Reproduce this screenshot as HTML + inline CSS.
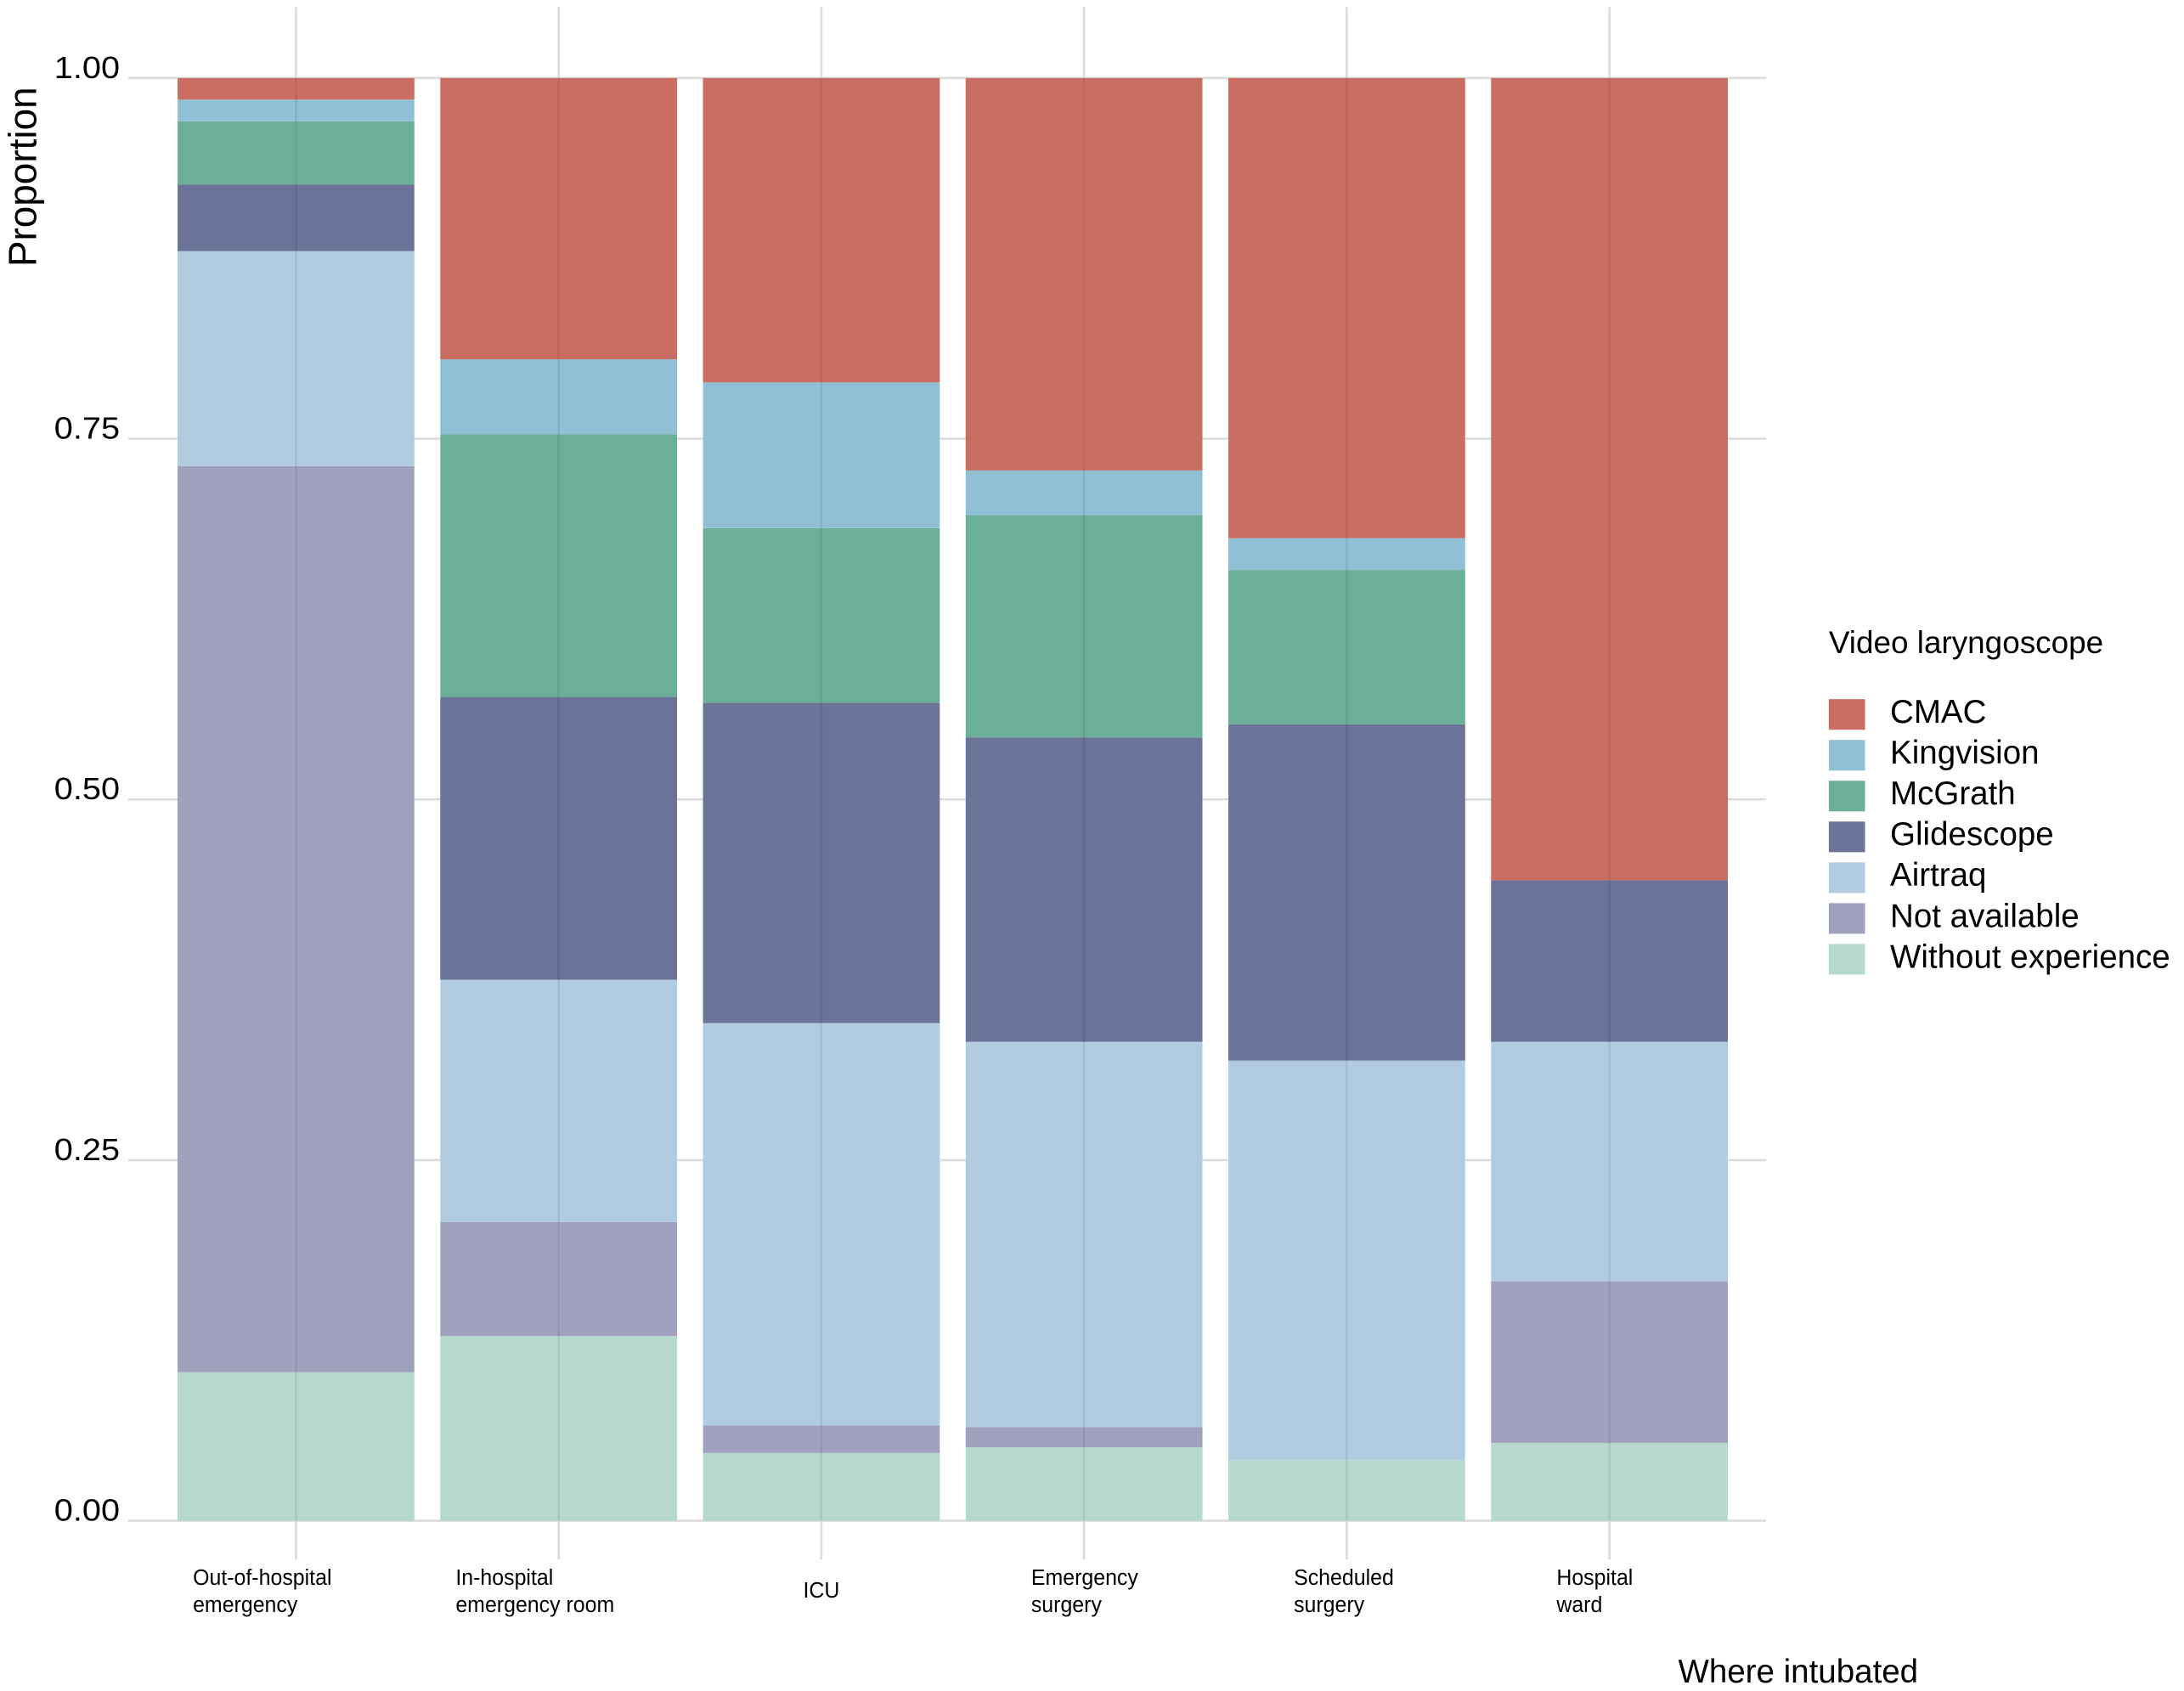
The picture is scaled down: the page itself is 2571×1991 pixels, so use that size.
<!DOCTYPE html>
<html><head><meta charset="utf-8"><style>
html,body{margin:0;padding:0;background:#fff;}
svg{display:block;font-family:"Liberation Sans",Arial,sans-serif;}
</style></head><body>
<svg id="chart" width="2571" height="1991" viewBox="0 0 1568 1214.2" preserveAspectRatio="none" xmlns="http://www.w3.org/2000/svg">
<g id="grid"></g>
<g id="bars"></g>
<g id="gridTop"></g>
<g id="axes"></g>
<text transform="translate(26,127) rotate(-90)" text-anchor="middle" font-size="28" fill="#000">Proportion</text>
<text x="1291" y="1208" text-anchor="middle" font-size="23.5" fill="#000">Where intubated</text>
<g id="legend">
<text x="1313" y="469" font-size="22.5" fill="#000">Video laryngoscope</text>
</g>
</svg>
<script>
const categories = [["Out-of-hospital","emergency"],["In-hospital","emergency room"],["ICU"],["Emergency","surgery"],["Scheduled","surgery"],["Hospital","ward"]];
const seriesNames = ["Without experience","Not available","Airtraq","Glidescope","McGrath","Kingvision","CMAC"];
const withoutExperience = [0.103,0.128,0.047,0.051,0.042,0.054];
const notAvailable = [0.628,0.079,0.019,0.014,0,0.112];
const airtraq = [0.149,0.168,0.279,0.267,0.277,0.166];
const glidescope = [0.046,0.196,0.222,0.211,0.233,0.112];
const mcgrath = [0.044,0.182,0.121,0.154,0.107,0];
const kingvision = [0.015,0.052,0.101,0.031,0.022,0];
const cmac = [0.015,0.195,0.211,0.272,0.319,0.556];
const yTicks = [0,0.25,0.5,0.75,1];
const yTickLabels = ["0.00","0.25","0.50","0.75","1.00"];
const legendOrder = ["CMAC","Kingvision","McGrath","Glidescope","Airtraq","Not available","Without experience"];

const colors = {"CMAC":"#c96e60","Kingvision":"#90c0d6","McGrath":"#6caf98","Glidescope":"#6b7398","Airtraq":"#b1cce1","Not available":"#9fa1bf","Without experience":"#b5d9cb"};
const series = [withoutExperience,notAvailable,airtraq,glidescope,mcgrath,kingvision,cmac];
const NS="http://www.w3.org/2000/svg";
const X0=92,X1=1268,Y0=1092,Y1=56;
const step=188.6, first=212.5, bw=170;
const y=v=>Y0-(Y0-Y1)*v;
const xc=i=>first+i*step;
function mk(tag,attrs,parent){const e=document.createElementNS(NS,tag);for(const k in attrs)e.setAttribute(k,attrs[k]);parent.appendChild(e);return e;}
const grid=document.getElementById('grid'),bars=document.getElementById('bars'),gt=document.getElementById('gridTop'),axes=document.getElementById('axes'),leg=document.getElementById('legend');
yTicks.forEach((t,i)=>{
  const l=mk('line',{x1:X0,x2:X1,y1:y(t),y2:y(t),stroke:'#dcdcdc','stroke-width':1.6},grid);
  
  
  const tx=mk('text',{x:86/1.1,y:y(t)+0,'text-anchor':'end','font-size':22,fill:'#000',transform:'scale(1.1,1)'},axes);
  
  
  tx.textContent=yTickLabels[i];
});
categories.forEach((c,i)=>{
  const l=mk('line',{x1:xc(i),x2:xc(i),y1:5,y2:1120,stroke:'#dcdcdc','stroke-width':1.6},grid);
  
  
  let acc=0;
  series.forEach((s,k)=>{
    const v=s[i]; if(v<=0){return;}
    const r=mk('rect',{x:xc(i)-bw/2,y:y(acc+v),width:bw,height:y(acc)-y(acc+v),fill:colors[seriesNames[k]]},bars);
    
    
    acc+=v;
  });
  const ov=mk('line',{x1:xc(i),x2:xc(i),y1:y(acc),y2:Y0,stroke:'#000','stroke-opacity':0.07,'stroke-width':1.6},gt);
  
  
  const g=mk('text',{'font-size':16,fill:'#000',transform:'scale(0.95,1)'},axes);
  
  
  const baseY=c.length===1?1147:1138;
  c.forEach((line,j)=>{const ts=mk('tspan',{x:0,y:baseY+j*19.5},g);ts.textContent=line;});
  const w=g.getBBox().width*0.95;
  const left=c.length===1?xc(i)-w/2:(i<2?xc(i)-74:xc(i)-38);
  g.querySelectorAll('tspan').forEach(ts=>ts.setAttribute('x',left/0.95));
});
legendOrder.forEach((n,i)=>{
  const yy=502+i*29.3;
  const r=mk('rect',{x:1313,y:yy,width:26,height:22,fill:colors[n]},leg);
  
  
  const t=mk('text',{x:1357,y:yy+17,'font-size':23.5,fill:'#000'},leg);
  
  
  t.textContent=n;
});
</script>
</body></html>
